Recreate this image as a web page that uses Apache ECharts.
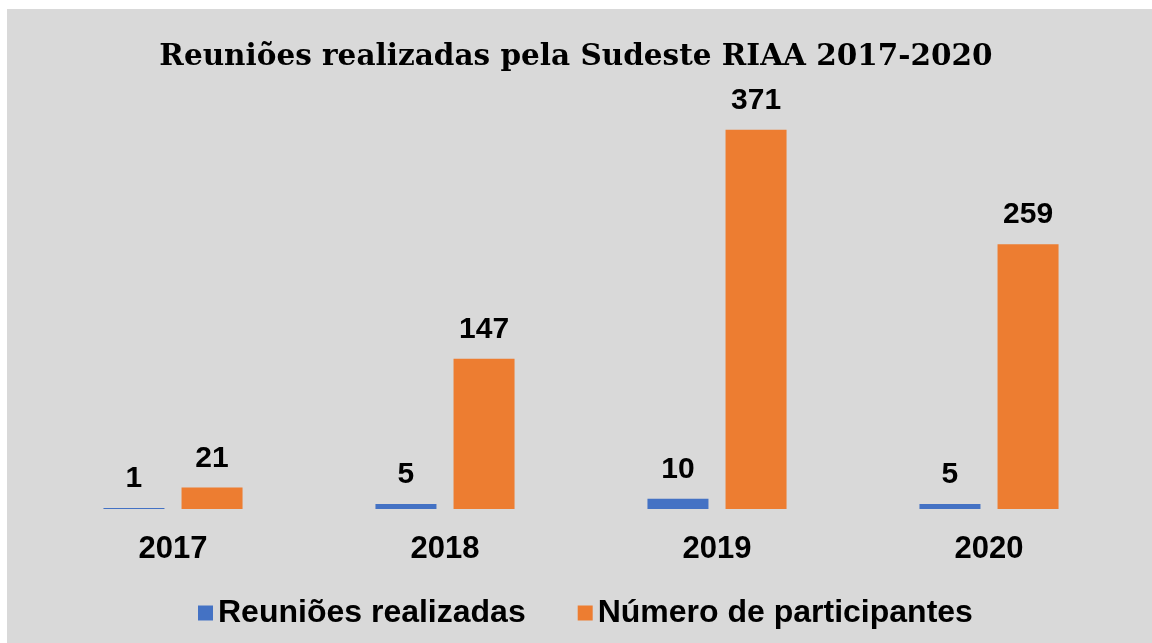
<!DOCTYPE html>
<html><head><meta charset="utf-8">
<script src="https://cdn.jsdelivr.net/npm/echarts@6/dist/echarts.min.js"></script>
<style>html,body{margin:0;padding:0;background:#fff}#c{width:1152px;height:643px}</style>
</head><body><div id="c"></div>
<script>
const categories = ['2017', '2018', '2019', '2020'];
const reunioes = [1, 5, 10, 5];
const participantes = [21, 147, 371, 259];
const seriesNames = ['Reuniões realizadas', 'Número de participantes'];

const chart = echarts.init(document.getElementById('c'));
const labelStyle = {show: true, position: 'top', distance: 14, fontFamily: 'Liberation Sans, Arial', fontWeight: 'bold', fontSize: 30, color: '#000'};
chart.setOption({
  backgroundColor: '#fff',
  animation: false,
  graphic: [{type: 'rect', z: -10, silent: true, shape: {x: 7, y: 9, width: 1145, height: 634}, style: {fill: '#d9d9d9'}}],
  title: {text: 'Reuniões realizadas pela Sudeste RIAA 2017-2020', left: 'center', top: 37,
    textStyle: {fontFamily: 'DejaVu Serif', fontWeight: 'bold', fontSize: 29.5, color: '#000'}},
  legend: {left: 193, top: 592, itemWidth: 15, itemHeight: 15, itemGap: 52, icon: 'rect',
    textStyle: {fontFamily: 'Liberation Sans, Arial', fontWeight: 'bold', fontSize: 32, color: '#000'},
    data: seriesNames},
  grid: {left: 37, right: 27, top: 100, bottom: 134, containLabel: false},
  xAxis: {type: 'category', data: categories, axisLine: {show: false}, axisTick: {show: false},
    axisLabel: {margin: 25, fontFamily: 'Liberation Sans, Arial', fontWeight: 'bold', fontSize: 31, color: '#000'}},
  yAxis: {type: 'value', min: 0, max: 400, show: false, splitLine: {show: false}},
  series: [
    {name: seriesNames[0], type: 'bar', data: reunioes, barWidth: 61, barGap: '28%', itemStyle: {color: '#4472c4'}, label: labelStyle},
    {name: seriesNames[1], type: 'bar', data: participantes, barWidth: 61, itemStyle: {color: '#ed7d31'}, label: labelStyle}
  ]
});
</script></body></html>
